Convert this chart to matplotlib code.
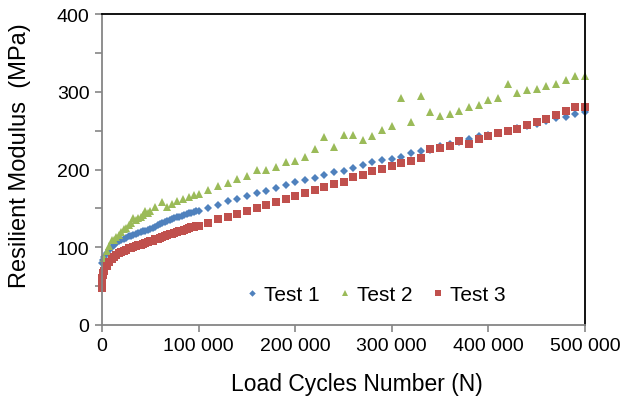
import matplotlib
matplotlib.use("Agg")
import matplotlib.pyplot as plt
from matplotlib.ticker import FuncFormatter, MultipleLocator

plt.rcParams['font.family'] = ['Liberation Sans', 'DejaVu Sans']

# ---------------- data ----------------
dense_x = [0, 1000, 2500, 5000, 7500, 10000, 12500, 15000, 17500, 20000,
           22500, 25000, 27500, 30000, 32500, 35000, 37500, 40000, 42500, 45000,
           47500, 50000, 52500, 55000, 57500, 60000, 62500, 65000, 67500, 70000,
           72500, 75000, 77500, 80000, 82500, 85000, 87500, 90000, 92500, 95000,
           97500, 100000]
sparse_x = [110000, 120000, 130000, 140000, 150000, 160000, 170000, 180000, 190000, 200000,
            210000, 220000, 230000, 240000, 250000, 260000, 270000, 280000, 290000, 300000,
            310000, 320000, 330000, 340000, 350000, 360000, 370000, 380000, 390000, 400000,
            410000, 420000, 430000, 440000, 450000, 460000, 470000, 480000, 490000, 500000]

test1_dense = [80, 84, 88, 93, 97, 100.5, 103, 105.5, 107.5, 109.5,
               111, 112.5, 114, 115, 116.3, 117.5, 118.5, 119.5, 120.5, 121.5,
               122.5, 123.5, 125, 126.5, 128, 129.5, 130.8, 132, 133.3, 134.5,
               135.8, 137, 138.3, 139.5, 140.5, 141.5, 142.5, 143.5, 144.5, 145.5,
               146.3, 147]
test1_sparse = [150.1, 153.9, 159.1, 162.1, 166.3, 169.8, 172.8, 176.6, 180.1, 183.5,
                186.1, 188.6, 192.9, 196.4, 198.5, 201.9, 205.4, 209.2, 211.8, 213.9,
                216.5, 221.7, 223.4, 225.5, 229.8, 232.8, 235.8, 239.2, 242.7, 244.8,
                246.9, 249.5, 253.0, 255.6, 258.5, 262.8, 265.8, 267.9, 271.8, 273.5]

test3_start_x = [0, 200, 500, 1000, 1500]
test3_start = [47, 55, 60, 64, 67]
test3_dense = [47, 64, 70, 76, 81, 84.5, 87.5, 90, 92, 94,
               95.5, 97, 98.5, 99.5, 100.5, 101.5, 102.5, 103.5, 104.5, 105.5,
               106.5, 107.5, 108.5, 110, 111, 112.5, 113.5, 114.5, 115.5, 116.5,
               117.5, 118.5, 119.5, 120.5, 121.5, 122.5, 123.5, 124.5, 125.5, 126.5,
               127, 127.7]
test3_sparse = [131.6, 135.9, 138.9, 143.2, 147.1, 150.9, 154.7, 158.6, 162.1, 165.5,
                169.8, 173.2, 177.1, 180.9, 184.3, 190.7, 192.9, 198.1, 200.2, 204.5,
                207.9, 210.9, 214.4, 226.0, 227.7, 230.2, 236.3, 233.2, 238.8, 243.5,
                246.5, 249.5, 252.1, 257.2, 261.1, 264.5, 270.1, 274.8, 280.4, 280.4]

test2_dense_x = [0, 1000, 2500, 5000, 7500, 10000, 12500, 15000, 17500, 20000,
                 22500, 25000, 27500, 30000, 32500, 35000, 37500, 40000, 42500, 45000,
                 47500, 50000, 55000, 62000, 67000, 72000, 78000, 84000, 90000, 95000,
                 100000]
test2_dense = [52, 72, 86, 95, 102, 109, 109, 113, 116, 119,
               124, 125, 128, 131, 138, 135, 137, 139, 141, 147,
               144, 147, 152, 158, 152, 156, 159, 162, 165, 167,
               168.5]
test2_sparse = [173.6, 179.2, 182.6, 187.8, 192.1, 199.8, 198.9, 202.8, 209.2, 211.4,
                216.5, 226.4, 241.8, 228.5, 244.4, 244.4, 237.9, 242.7, 250.8, 256.4,
                292.4, 260.7, 294.1, 273.5, 268.4, 271.4, 274.8, 280.0, 283.4, 289.0,
                292.4, 310.0, 298.0, 302.3, 304.0, 307.8, 310.4, 314.7, 320.7, 320.7]

x_ticks = [0, 100000, 200000, 300000, 400000, 500000]
y_ticks = [0, 100, 200, 300, 400]

c1, c2, c3 = '#4F81BD', '#9BBB59', '#C0504D'

# ---------------- figure ----------------
fig = plt.figure(figsize=(6.35, 4.06), dpi=100)
ax = fig.add_axes([102/635, 1-326/406, 483/635, 311/406])

ax.plot(dense_x + sparse_x, test1_dense + test1_sparse, linestyle='none',
        marker='D', markersize=4.4, color=c1, markeredgewidth=0, label='Test 1',
        clip_on=False)
ax.plot(test2_dense_x + sparse_x, test2_dense + test2_sparse, linestyle='none',
        marker='^', markersize=6.2, color=c2, markeredgewidth=0, label='Test 2',
        clip_on=False)
ax.plot(test3_start_x + dense_x[2:] + sparse_x,
        test3_start + test3_dense[2:] + test3_sparse, linestyle='none',
        marker='s', markersize=5.6, color=c3, markeredgewidth=0, label='Test 3',
        clip_on=False)

ax.set_xlim(0, 500000)
ax.set_ylim(0, 400)
ax.set_xticks(x_ticks)
ax.set_yticks(y_ticks)
ax.yaxis.set_minor_locator(MultipleLocator(50))
ax.xaxis.set_major_formatter(FuncFormatter(lambda v, p: f"{int(v):,}".replace(",", " ")))

gray = '#868686'
for s in ['left', 'bottom']:
    ax.spines[s].set_color(gray)
    ax.spines[s].set_linewidth(1.3)
for s in ['top', 'right']:
    ax.spines[s].set_color('black')
    ax.spines[s].set_linewidth(1.3)

ax.tick_params(axis='both', which='both', direction='out', color=gray, width=1.2,
               labelsize=14, labelcolor='black')
ax.tick_params(axis='both', which='major', length=5, pad=4)
ax.tick_params(axis='y', which='minor', length=5)
ax.tick_params(axis='x', which='minor', length=0)

ax.set_xlabel('Load Cycles Number (N)', fontsize=16.5)
ax.set_ylabel('Resilient Modulus  (MPa)', fontsize=17)
ax.xaxis.set_label_coords((357 - 102) / 483, -(385 - 326) / 311)
ax.yaxis.set_label_coords(-(102 - 20) / 483, (326 - 156) / 311)
ax.xaxis.label.set_va('center')
ax.yaxis.label.set_va('center')

leg = ax.legend(loc='center', bbox_to_anchor=(0.567, 0.0965), ncol=3, frameon=False,
                fontsize=15, markerscale=0.75, handlelength=0.6, handletextpad=0.3,
                columnspacing=0.9, borderaxespad=0, borderpad=0)

fig.savefig('out.png', dpi=100)
